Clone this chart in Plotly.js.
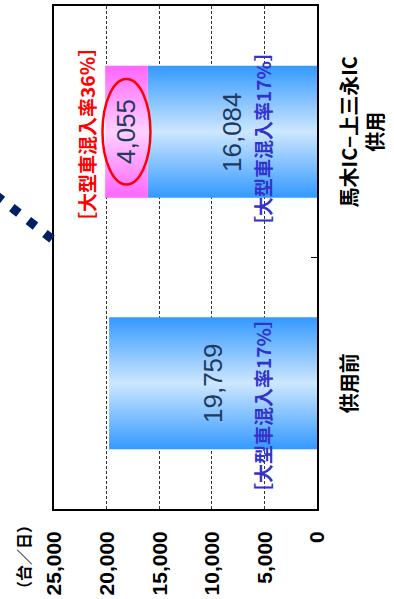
<!DOCTYPE html>
<html>
<head>
<meta charset="utf-8">
<script src="https://cdn.plot.ly/plotly-3.0.1.min.js"></script>
<style>
  html, body { margin: 0; padding: 0; background: #fff; width: 394px; height: 599px; overflow: hidden; }
  /* the chart is laid out landscape and turned a quarter turn counter-clockwise */
  #chart {
    position: absolute; left: 0; top: 0;
    width: 599px; height: 394px;
    transform-origin: 0 0;
    transform: translate(0, 599px) rotate(-90deg);
  }
</style>
</head>
<body>
<div id="chart"></div>
<script>
// categories (x positions 0, 1)
const categories = ['供用前', '馬木IC−上三永IC<br>供用'];
// ordinary-vehicle (blue) volume per category, vehicles/day
const baseVolumes = [19759, 16084];
// additional large-vehicle (pink) volume stacked on top; only after opening
const extraVolumes = [0, 4055];
// large-vehicle share labels
const blueShareLabels = ['［大型車混入率17%］', '［大型車混入率17%］'];
const redShareLabel = '［大型車混入率36％］';
const yTickVals = [0, 5000, 10000, 15000, 20000, 25000];
const unitLabel = '（台／日）';

const BAR_W = 0.525;
const JP = '"Noto Sans CJK JP", "Noto Sans", sans-serif';
const LAT = '"Liberation Sans", Arial, sans-serif';

const blueScale = [[0, '#3399FF'], [0.5, '#CDE7FF'], [1, '#3399FF']];
const pinkScale = [[0, '#FF66FF'], [0.5, '#FFD0FF'], [1, '#FF66FF']];

// a bar segment as a filled polygon so it can carry a horizontal gradient
function segment(c, base, top, scale) {
  const a = c - BAR_W / 2, b = c + BAR_W / 2;
  return {
    type: 'scatter', mode: 'lines',
    x: [a, b, b, a, a], y: [base, base, top, top, base],
    fill: 'toself', line: { width: 0 },
    fillgradient: { type: 'horizontal', colorscale: scale },
    hoverinfo: 'skip', showlegend: false
  };
}

const traces = [];
const annotations = [];
const shapes = [];
const fmt = v => v.toLocaleString('en-US');

categories.forEach((cat, i) => {
  const b = baseVolumes[i];
  traces.push(segment(i, 0, b, blueScale));
  annotations.push({
    x: i, y: b / 2, xref: 'x', yref: 'y', text: fmt(b), showarrow: false,
    font: { family: LAT, size: 26, color: '#203A60' }
  });
  annotations.push({
    x: i, y: 5200, xref: 'x', yref: 'y', xshift: i === 0 ? -22 : -7,
    text: blueShareLabels[i], showarrow: false,
    font: { family: JP, size: 19, color: '#3333CC', weight: 'bold' }
  });
  const e = extraVolumes[i];
  if (e > 0) {
    traces.push(segment(i, b, b + e, pinkScale));
    const mid = b + e / 2;
    annotations.push({
      x: i, y: mid, xref: 'x', yref: 'y', text: fmt(e), showarrow: false,
      font: { family: LAT, size: 26, color: '#203A60' }
    });
    shapes.push({
      type: 'circle', xref: 'x', yref: 'y',
      x0: i - 0.21, x1: i + 0.21, y0: mid - 2280, y1: mid + 2280,
      line: { color: '#FF0000', width: 2.5 }, layer: 'above'
    });
    annotations.push({
      x: i, y: 21900, xref: 'x', yref: 'y', xshift: -3,
      text: redShareLabel, showarrow: false,
      font: { family: JP, size: 19, color: '#FF0000', weight: 'bold' }
    });
  }
});

// heavy dotted leader coming in from above the frame
shapes.push({
  type: 'line', xref: 'paper', yref: 'paper',
  x0: 0.6505, y0: 1.2863, x1: 0.5368, y1: 1.0076,
  line: { color: '#002060', width: 9, dash: '9px,12px' }
});

annotations.push({
  xref: 'paper', yref: 'paper', x: -0.0954, y: 1.118,
  xanchor: 'center', yanchor: 'middle',
  text: unitLabel, showarrow: false,
  font: { family: JP, size: 16, color: '#000', weight: 'bold' }
});

const layout = {
  width: 599, height: 394,
  margin: { l: 90, r: 6, t: 54, b: 77 },
  paper_bgcolor: '#fff', plot_bgcolor: '#fff',
  showlegend: false,
  xaxis: {
    type: 'linear', range: [-0.5, 1.5], fixedrange: true,
    tickvals: [0, 1], ticktext: categories,
    ticks: '', showgrid: false, zeroline: false,
    showline: true, mirror: true, linecolor: '#000', linewidth: 2,
    ticklabelstandoff: 14,
    tickfont: { family: JP, size: 20, color: '#000', weight: 'bold' },
    minor: { tickvals: [0.5], ticks: 'inside', ticklen: 6, tickwidth: 1.5, tickcolor: '#000', showgrid: false }
  },
  yaxis: {
    range: [0, 25000], fixedrange: true,
    tickvals: yTickVals, tickformat: ',d',
    ticks: '', showgrid: true, gridcolor: '#333', gridwidth: 1, griddash: '3px,2px',
    zeroline: false,
    showline: true, mirror: true, linecolor: '#000', linewidth: 2,
    ticklabelstandoff: 16,
    tickfont: { family: LAT, size: 21, color: '#000', weight: 'bold' }
  },
  annotations: annotations,
  shapes: shapes
};

Plotly.newPlot('chart', traces, layout, { staticPlot: true, displayModeBar: false });
</script>
</body>
</html>
